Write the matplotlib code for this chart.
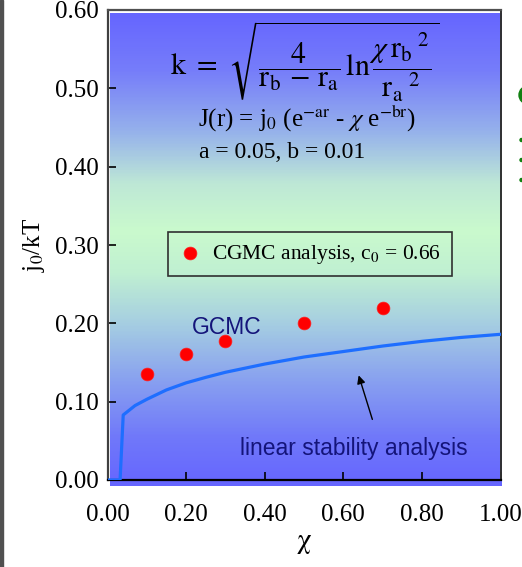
import numpy as np
import matplotlib
matplotlib.use('Agg')
import matplotlib.pyplot as plt
from matplotlib.colors import LinearSegmentedColormap
from matplotlib.patches import Rectangle, Circle

# ---- data ----
cgmc_chi = [0.10, 0.20, 0.30, 0.50, 0.70]
cgmc_j0 = [0.135, 0.161, 0.178, 0.201, 0.219]

lsa_chi = [0.0, 0.032, 0.04, 0.07, 0.10, 0.15, 0.20, 0.25, 0.30, 0.40, 0.50, 0.60, 0.70, 0.80, 0.90, 1.00]
lsa_j0 = [0.0, 0.0, 0.083, 0.095, 0.103, 0.115, 0.124, 0.131, 0.1375, 0.148, 0.157, 0.164, 0.171, 0.177, 0.182, 0.186]

xticks = [0.0, 0.2, 0.4, 0.6, 0.8, 1.0]
xticklabels = ['0.00', '0.20', '0.40', '0.60', '0.80', '1.00']
yticks = [0.0, 0.1, 0.2, 0.3, 0.4, 0.5, 0.6]
yticklabels = ['0.00', '0.10', '0.20', '0.30', '0.40', '0.50', '0.60']

plt.rcParams['mathtext.fontset'] = 'stix'
plt.rcParams['font.family'] = ['Liberation Serif', 'DejaVu Serif']

W, H = 522, 567
fig = plt.figure(figsize=(W / 100, H / 100), dpi=100)

# figure background gradient
bg = fig.add_axes([0, 0, 1, 1], zorder=-10)
bg.axis('off')
yy, xx = np.mgrid[0:1:200j, 0:1:200j]
t = 0.75 * yy + 0.25 * xx
c0 = np.array([212, 222, 232]) / 255
c1 = np.array([182, 198, 214]) / 255
img = c0[None, None, :] * (1 - t[..., None]) + c1[None, None, :] * t[..., None]
bg.imshow(img, extent=[0, 1, 0, 1], aspect='auto', origin='upper')
bg.set_xlim(0, W); bg.set_ylim(H, 0)
bg.add_patch(Rectangle((0, 0), 3, H, color='#505050'))
bg.add_patch(Circle((528, 95), 9, color='#108010'))
for yd in (140, 160, 180):
    bg.add_patch(Circle((521.5, yd), 1.5, color='#108010'))

# plot-area gradient
gax = fig.add_axes([110 / W, 1 - 486 / H, 392 / W, 473 / H], zorder=-5)
gax.axis('off')
stops = [(0.0, (102, 102, 255)), (0.12, (118, 125, 250)), (0.25, (150, 178, 235)),
         (0.36, (190, 232, 214)), (0.46, (202, 250, 205)), (0.55, (192, 240, 210)),
         (0.66, (165, 205, 226)), (0.78, (136, 160, 240)), (0.9, (112, 120, 250)),
         (1.0, (102, 102, 255))]
cmap = LinearSegmentedColormap.from_list('g', [(p, np.array(c) / 255) for p, c in stops])
grad = np.linspace(0, 1, 400)[:, None]
gax.imshow(grad, cmap=cmap, aspect='auto', extent=[0, 1, 0, 1], origin='upper')
gax.set_xlim(0, 1); gax.set_ylim(0, 1)

# main axes
ax = fig.add_axes([107.5 / W, 1 - 480 / H, 393 / W, 470 / H], zorder=1)
ax.set_facecolor('none')
ax.set_xlim(0, 1)
ax.set_ylim(0, 0.6)

ax.plot(lsa_chi, lsa_j0, color='#1e6eff', lw=2.3, zorder=3, solid_joinstyle='round')
sc = ax.scatter(cgmc_chi, cgmc_j0, s=85, color='#ff0000', edgecolors='#ff2020',
                linewidths=0.5, zorder=4, label=r'CGMC analysis, c$_0$ = 0.66')

ax.set_xticks(xticks)
ax.set_xticklabels(xticklabels)
ax.set_yticks(yticks)
ax.set_yticklabels(yticklabels)
ax.tick_params(direction='in', length=5.5, width=1.2, labelsize=18, colors='black')
ax.tick_params(axis='x', pad=17)
ax.tick_params(axis='y', pad=6)
for side in ['left', 'bottom']:
    ax.spines[side].set_linewidth(1.6)
ax.spines['left'].set_color('#404040')
ax.spines['bottom'].set_color('black')
ax.spines['top'].set_color('#505050')
ax.spines['right'].set_color('#303030')
ax.spines['top'].set_linewidth(1.6)
ax.spines['right'].set_linewidth(1.4)

ax.set_xlabel('χ', fontsize=21, labelpad=2, family='STIXGeneral')
ax.set_ylabel(r'j$_0$/kT', fontsize=18, labelpad=6)

leg = ax.legend(handles=[sc], loc='upper left', bbox_to_anchor=(0.154, 0.528),
                fontsize=15.5, frameon=True, fancybox=False, framealpha=1,
                facecolor='none', edgecolor='#303030', borderpad=0.5,
                handletextpad=0.55, handlelength=1.0, borderaxespad=0)
leg.get_frame().set_linewidth(1.2)

# formulas
fig.text(305 / W, 1 - 62 / H,
         r'$\mathrm{k}\ =\ \sqrt{\dfrac{4}{\mathrm{r_b}\,-\,\mathrm{r_a}}\,\ln\dfrac{\chi\,\mathrm{r_b}^{\ 2}}{\mathrm{r_a}^{\ 2}}}$',
         fontsize=21.5, ha='center', va='center', zorder=5)
fig.text(307 / W, 1 - 118 / H,
         r'J(r) = j$_0$ (e$^{\mathrm{-ar}}$ - $\chi$ e$^{\mathrm{-br}}$)',
         fontsize=18, ha='center', va='center', zorder=5)
fig.text(199 / W, 1 - 153 / H, 'a = 0.05, b = 0.01', fontsize=17,
         ha='left', va='center', zorder=5)

ax.text((192 - 107.5) / 393, (480 - 328) / 470, 'GCMC', transform=ax.transAxes,
        family='Liberation Sans', fontsize=16.5, color='#14147a', ha='left', va='center')
ax.text((240 - 107.5) / 393, (480 - 448) / 470, 'linear stability analysis',
        transform=ax.transAxes, family='Liberation Sans', fontsize=16.5,
        color='#14147a', ha='left', va='center')

ax.annotate('', xy=(0.637, 0.137), xytext=(0.676, 0.074),
            arrowprops=dict(arrowstyle='-|>', color='black', lw=1.0, mutation_scale=12))

fig.savefig('out.png', dpi=100)
